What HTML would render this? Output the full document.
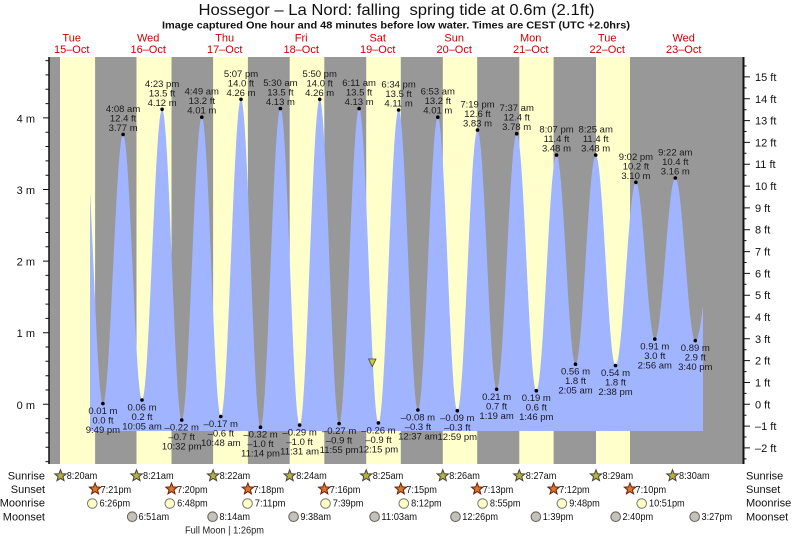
<!DOCTYPE html>
<html><head><meta charset="utf-8"><style>
html,body{margin:0;padding:0;background:#fff;}
svg{display:block;font-family:"Liberation Sans",Arial,sans-serif;}
.tl{font-size:9.5px;fill:#1a1a1a;text-anchor:middle;}
.ax{font-size:11px;fill:#111;}
.day{font-size:11px;fill:#cc0000;text-anchor:middle;}
.bt{font-size:10.5px;fill:#111;}
.rl{font-size:11px;fill:#111;}
</style></head><body>
<svg width="793" height="539" viewBox="0 0 793 539" xmlns="http://www.w3.org/2000/svg">
<defs>
<path id="star" d="M0,-6L1.52,-2.09L5.71,-1.85L2.46,0.8L3.53,4.85L0,2.6L-3.53,4.85L-2.46,0.8L-5.71,-1.85L-1.52,-2.09Z"/>
<clipPath id="pc"><rect x="49" y="57" width="694" height="407"/></clipPath>
</defs>

<!-- Title -->
<text x="396.5" y="15" font-size="16" text-anchor="middle" textLength="396" lengthAdjust="spacingAndGlyphs" fill="#111" xml:space="preserve">Hossegor – La Nord: falling  spring tide at 0.6m (2.1ft)</text>
<text x="396" y="28.5" font-size="10" font-weight="bold" text-anchor="middle" textLength="468" lengthAdjust="spacingAndGlyphs" fill="#111">Image captured One hour and 48 minutes before low water. Times are CEST (UTC +2.0hrs)</text>

<!-- Day labels -->
<text class="day" x="71.7" y="41.5">Tue</text><text class="day" x="71.7" y="53">15–Oct</text>
<text class="day" x="148.2" y="41.5">Wed</text><text class="day" x="148.2" y="53">16–Oct</text>
<text class="day" x="224.7" y="41.5">Thu</text><text class="day" x="224.7" y="53">17–Oct</text>
<text class="day" x="301.2" y="41.5">Fri</text><text class="day" x="301.2" y="53">18–Oct</text>
<text class="day" x="377.7" y="41.5">Sat</text><text class="day" x="377.7" y="53">19–Oct</text>
<text class="day" x="454.2" y="41.5">Sun</text><text class="day" x="454.2" y="53">20–Oct</text>
<text class="day" x="530.7" y="41.5">Mon</text><text class="day" x="530.7" y="53">21–Oct</text>
<text class="day" x="607.2" y="41.5">Tue</text><text class="day" x="607.2" y="53">22–Oct</text>
<text class="day" x="683.7" y="41.5">Wed</text><text class="day" x="683.7" y="53">23–Oct</text>

<!-- Plot background -->
<g clip-path="url(#pc)">
<rect x="49" y="57" width="694" height="407" fill="#ffffcc"/>
<g fill="#989898">
<rect x="49" y="57" width="11" height="407"/>
<rect x="95.1" y="57" width="41.4" height="407"/>
<rect x="171.5" y="57" width="41.6" height="407"/>
<rect x="247.9" y="57" width="41.8" height="407"/>
<rect x="324.3" y="57" width="41.9" height="407"/>
<rect x="400.8" y="57" width="42" height="407"/>
<rect x="477.2" y="57" width="42.1" height="407"/>
<rect x="553.6" y="57" width="42.4" height="407"/>
<rect x="630" y="57" width="113" height="407"/>
</g>
<path id="tide" fill="#a0b4ff" d="M90,431L703,431Z"/>
</g>

<!-- Axes -->
<line x1="49" y1="57" x2="49" y2="464" stroke="#111" stroke-width="1.5"/>
<line x1="743.5" y1="57" x2="743.5" y2="464" stroke="#111" stroke-width="2"/>
<path stroke="#111" stroke-width="1" fill="none" d="M43,404.3H49M43,332.7H49M43,261.1H49M43,189.5H49M43,117.9H49
M45.5,461.6H49M45.5,447.3H49M45.5,432.9H49M45.5,418.6H49M45.5,390H49M45.5,375.7H49M45.5,361.3H49M45.5,347H49
M45.5,318.4H49M45.5,304.1H49M45.5,289.7H49M45.5,275.4H49M45.5,246.8H49M45.5,232.5H49M45.5,218.1H49M45.5,203.8H49
M45.5,175.2H49M45.5,160.9H49M45.5,146.5H49M45.5,132.2H49M45.5,103.6H49M45.5,89.3H49M45.5,74.9H49M45.5,60.6H49"/>
<path stroke="#111" stroke-width="1" fill="none" d="M743,447.9H750M743,426.1H750M743,404.3H750M743,382.5H750M743,360.6H750M743,338.8H750M743,317H750M743,295.2H750M743,273.4H750M743,251.6H750M743,229.7H750M743,207.9H750M743,186.1H750M743,164.2H750M743,142.4H750M743,120.6H750M743,98.8H750M743,76.9H750
M743,458.9H746.5M743,437H746.5M743,415.2H746.5M743,393.4H746.5M743,371.6H746.5M743,349.7H746.5M743,327.9H746.5M743,306.1H746.5M743,284.3H746.5M743,262.5H746.5M743,240.6H746.5M743,218.8H746.5M743,197H746.5M743,175.2H746.5M743,153.3H746.5M743,131.5H746.5M743,109.7H746.5M743,87.9H746.5M743,66H746.5"/>
<g class="ax" text-anchor="end">
<text x="35" y="408.8">0 m</text><text x="35" y="337.2">1 m</text><text x="35" y="265.6">2 m</text><text x="35" y="194">3 m</text><text x="35" y="122.4">4 m</text>
</g>
<g class="ax">
<text x="755" y="451.9">–2 ft</text><text x="755" y="430.1">–1 ft</text><text x="755" y="408.3">0 ft</text><text x="755" y="386.5">1 ft</text><text x="755" y="364.6">2 ft</text><text x="755" y="342.8">3 ft</text><text x="755" y="321">4 ft</text><text x="755" y="299.2">5 ft</text><text x="755" y="277.4">6 ft</text><text x="755" y="255.6">7 ft</text><text x="755" y="233.7">8 ft</text><text x="755" y="211.9">9 ft</text><text x="755" y="190.1">10 ft</text><text x="755" y="168.2">11 ft</text><text x="755" y="146.4">12 ft</text><text x="755" y="124.6">13 ft</text><text x="755" y="102.8">14 ft</text><text x="755" y="80.9">15 ft</text>
</g>

<!-- Tide dots -->
<g fill="#000">
<circle cx="102.9" cy="403.6" r="1.8"/><circle cx="123.1" cy="134.4" r="1.8"/><circle cx="142" cy="400" r="1.8"/><circle cx="162.1" cy="109.3" r="1.8"/>
<circle cx="181.7" cy="420.1" r="1.8"/><circle cx="201.8" cy="117.2" r="1.8"/><circle cx="220.8" cy="416.5" r="1.8"/><circle cx="241" cy="99.3" r="1.8"/>
<circle cx="260.5" cy="427.2" r="1.8"/><circle cx="280.4" cy="108.6" r="1.8"/><circle cx="299.6" cy="425.1" r="1.8"/><circle cx="319.7" cy="99.3" r="1.8"/>
<circle cx="339.1" cy="423.6" r="1.8"/><circle cx="359.1" cy="108.6" r="1.8"/><circle cx="378.4" cy="422.9" r="1.8"/><circle cx="398.6" cy="110" r="1.8"/>
<circle cx="417.9" cy="410" r="1.8"/><circle cx="437.8" cy="117.2" r="1.8"/><circle cx="457.3" cy="410.7" r="1.8"/><circle cx="477.5" cy="130.1" r="1.8"/>
<circle cx="496.6" cy="389.3" r="1.8"/><circle cx="516.7" cy="133.7" r="1.8"/><circle cx="536.3" cy="390.7" r="1.8"/><circle cx="556.5" cy="155.1" r="1.8"/>
<circle cx="575.5" cy="364.2" r="1.8"/><circle cx="595.7" cy="155.1" r="1.8"/><circle cx="615.5" cy="365.6" r="1.8"/><circle cx="635.9" cy="182.3" r="1.8"/>
<circle cx="654.8" cy="339.1" r="1.8"/><circle cx="675.3" cy="178" r="1.8"/><circle cx="695.3" cy="340.6" r="1.8"/>
</g>

<!-- Tide labels: lows -->
<g class="tl">
<text x="102.9" y="414.1">0.01 m</text><text x="102.9" y="423.6">0.0 ft</text><text x="102.9" y="433.1">9:49 pm</text>
<text x="142" y="410.5">0.06 m</text><text x="142" y="420">0.2 ft</text><text x="142" y="429.5">10:05 am</text>
<text x="181.7" y="430.6">–0.22 m</text><text x="181.7" y="440.1">–0.7 ft</text><text x="181.7" y="449.6">10:32 pm</text>
<text x="220.8" y="427">–0.17 m</text><text x="220.8" y="436.5">–0.6 ft</text><text x="220.8" y="446">10:48 am</text>
<text x="260.5" y="437.7">–0.32 m</text><text x="260.5" y="447.2">–1.0 ft</text><text x="260.5" y="456.7">11:14 pm</text>
<text x="299.6" y="435.6">–0.29 m</text><text x="299.6" y="445.1">–1.0 ft</text><text x="299.6" y="454.6">11:31 am</text>
<text x="339.1" y="434.1">–0.27 m</text><text x="339.1" y="443.6">–0.9 ft</text><text x="339.1" y="453.1">11:55 pm</text>
<text x="378.4" y="433.4">–0.26 m</text><text x="378.4" y="442.9">–0.9 ft</text><text x="378.4" y="452.4">12:15 pm</text>
<text x="417.9" y="420.5">–0.08 m</text><text x="417.9" y="430">–0.3 ft</text><text x="417.9" y="439.5">12:37 am</text>
<text x="457.3" y="421.2">–0.09 m</text><text x="457.3" y="430.7">–0.3 ft</text><text x="457.3" y="440.2">12:59 pm</text>
<text x="496.6" y="399.8">0.21 m</text><text x="496.6" y="409.3">0.7 ft</text><text x="496.6" y="418.8">1:19 am</text>
<text x="536.3" y="401.2">0.19 m</text><text x="536.3" y="410.7">0.6 ft</text><text x="536.3" y="420.2">1:46 pm</text>
<text x="575.5" y="374.7">0.56 m</text><text x="575.5" y="384.2">1.8 ft</text><text x="575.5" y="393.7">2:05 am</text>
<text x="615.5" y="376.1">0.54 m</text><text x="615.5" y="385.6">1.8 ft</text><text x="615.5" y="395.1">2:38 pm</text>
<text x="654.8" y="349.6">0.91 m</text><text x="654.8" y="359.1">3.0 ft</text><text x="654.8" y="368.6">2:56 am</text>
<text x="695.3" y="351.1">0.89 m</text><text x="695.3" y="360.6">2.9 ft</text><text x="695.3" y="370.1">3:40 pm</text>
</g>
<!-- Tide labels: highs -->
<g class="tl">
<text x="123.1" y="111.9">4:08 am</text><text x="123.1" y="121.4">12.4 ft</text><text x="123.1" y="130.9">3.77 m</text>
<text x="162.1" y="86.8">4:23 pm</text><text x="162.1" y="96.3">13.5 ft</text><text x="162.1" y="105.8">4.12 m</text>
<text x="201.8" y="94.7">4:49 am</text><text x="201.8" y="104.2">13.2 ft</text><text x="201.8" y="113.7">4.01 m</text>
<text x="241" y="76.8">5:07 pm</text><text x="241" y="86.3">14.0 ft</text><text x="241" y="95.8">4.26 m</text>
<text x="280.4" y="86.1">5:30 am</text><text x="280.4" y="95.6">13.5 ft</text><text x="280.4" y="105.1">4.13 m</text>
<text x="319.7" y="76.8">5:50 pm</text><text x="319.7" y="86.3">14.0 ft</text><text x="319.7" y="95.8">4.26 m</text>
<text x="359.1" y="86.1">6:11 am</text><text x="359.1" y="95.6">13.5 ft</text><text x="359.1" y="105.1">4.13 m</text>
<text x="398.6" y="87.5">6:34 pm</text><text x="398.6" y="97">13.5 ft</text><text x="398.6" y="106.5">4.11 m</text>
<text x="437.8" y="94.7">6:53 am</text><text x="437.8" y="104.2">13.2 ft</text><text x="437.8" y="113.7">4.01 m</text>
<text x="477.5" y="107.6">7:19 pm</text><text x="477.5" y="117.1">12.6 ft</text><text x="477.5" y="126.6">3.83 m</text>
<text x="516.7" y="111.2">7:37 am</text><text x="516.7" y="120.7">12.4 ft</text><text x="516.7" y="130.2">3.78 m</text>
<text x="556.5" y="132.6">8:07 pm</text><text x="556.5" y="142.1">11.4 ft</text><text x="556.5" y="151.6">3.48 m</text>
<text x="595.7" y="132.6">8:25 am</text><text x="595.7" y="142.1">11.4 ft</text><text x="595.7" y="151.6">3.48 m</text>
<text x="635.9" y="159.8">9:02 pm</text><text x="635.9" y="169.3">10.2 ft</text><text x="635.9" y="178.8">3.10 m</text>
<text x="675.3" y="155.5">9:22 am</text><text x="675.3" y="165">10.4 ft</text><text x="675.3" y="174.5">3.16 m</text>
</g>

<!-- Current time marker -->
<polygon points="368.6,359 376,359 372.3,366.7" fill="#cccc33" stroke="#444" stroke-width="0.8"/>

<!-- Bottom rows labels -->
<g class="rl" text-anchor="end">
<text x="45" y="479.5">Sunrise</text><text x="45" y="493">Sunset</text><text x="45" y="506.5">Moonrise</text><text x="45" y="520.5">Moonset</text>
</g>
<g class="rl">
<text x="746" y="479.5">Sunrise</text><text x="746" y="493">Sunset</text><text x="746" y="506.5">Moonrise</text><text x="746" y="520.5">Moonset</text>
</g>

<!-- Sunrise icons -->
<g fill="#b8b23c" stroke="#444" stroke-width="1">
<use href="#star" x="60.5" y="475.8"/><use href="#star" x="136.5" y="475.8"/><use href="#star" x="213.1" y="475.8"/><use href="#star" x="289.7" y="475.8"/><use href="#star" x="366.2" y="475.8"/><use href="#star" x="442.8" y="475.8"/><use href="#star" x="519.3" y="475.8"/><use href="#star" x="596" y="475.8"/><use href="#star" x="672.5" y="475.8"/>
</g>
<g class="bt">
<text x="66.7" y="479" textLength="30.6" lengthAdjust="spacingAndGlyphs">8:20am</text>
<text x="143" y="479" textLength="30.6" lengthAdjust="spacingAndGlyphs">8:21am</text>
<text x="219.6" y="479" textLength="30.6" lengthAdjust="spacingAndGlyphs">8:22am</text>
<text x="296.2" y="479" textLength="30.6" lengthAdjust="spacingAndGlyphs">8:24am</text>
<text x="372.7" y="479" textLength="30.6" lengthAdjust="spacingAndGlyphs">8:25am</text>
<text x="449.3" y="479" textLength="30.6" lengthAdjust="spacingAndGlyphs">8:26am</text>
<text x="525.8" y="479" textLength="30.6" lengthAdjust="spacingAndGlyphs">8:27am</text>
<text x="602.5" y="479" textLength="30.6" lengthAdjust="spacingAndGlyphs">8:29am</text>
<text x="679" y="479" textLength="30.6" lengthAdjust="spacingAndGlyphs">8:30am</text>
</g>

<!-- Sunset icons -->
<g fill="#d8762c" stroke="#6a2008" stroke-width="1">
<use href="#star" x="95.1" y="489"/><use href="#star" x="171.5" y="489"/><use href="#star" x="247.9" y="489"/><use href="#star" x="324.3" y="489"/><use href="#star" x="400.8" y="489"/><use href="#star" x="477.2" y="489"/><use href="#star" x="553.6" y="489"/><use href="#star" x="630" y="489"/>
</g>
<g class="bt">
<text x="100.6" y="493" textLength="30.6" lengthAdjust="spacingAndGlyphs">7:21pm</text>
<text x="177" y="493" textLength="30.6" lengthAdjust="spacingAndGlyphs">7:20pm</text>
<text x="253.4" y="493" textLength="30.6" lengthAdjust="spacingAndGlyphs">7:18pm</text>
<text x="329.8" y="493" textLength="30.6" lengthAdjust="spacingAndGlyphs">7:16pm</text>
<text x="406.3" y="493" textLength="30.6" lengthAdjust="spacingAndGlyphs">7:15pm</text>
<text x="482.7" y="493" textLength="30.6" lengthAdjust="spacingAndGlyphs">7:13pm</text>
<text x="559.1" y="493" textLength="30.6" lengthAdjust="spacingAndGlyphs">7:12pm</text>
<text x="635.5" y="493" textLength="30.6" lengthAdjust="spacingAndGlyphs">7:10pm</text>
</g>

<!-- Moonrise icons -->
<g fill="#ffffc8" stroke="#7a7a70" stroke-width="1">
<circle cx="92.3" cy="503.5" r="4.8"/><circle cx="169.8" cy="503.5" r="4.8"/><circle cx="247.5" cy="503.5" r="4.8"/><circle cx="325.5" cy="503.5" r="4.8"/><circle cx="403.8" cy="503.5" r="4.8"/><circle cx="482.6" cy="503.5" r="4.8"/><circle cx="561.9" cy="503.5" r="4.8"/><circle cx="641.7" cy="503.5" r="4.8"/>
</g>
<g class="bt">
<text x="99.5" y="506.7" textLength="30.6" lengthAdjust="spacingAndGlyphs">6:26pm</text>
<text x="177.1" y="506.7" textLength="30.6" lengthAdjust="spacingAndGlyphs">6:48pm</text>
<text x="254.8" y="506.7" textLength="30.6" lengthAdjust="spacingAndGlyphs">7:11pm</text>
<text x="332.8" y="506.7" textLength="30.6" lengthAdjust="spacingAndGlyphs">7:39pm</text>
<text x="411.1" y="506.7" textLength="30.6" lengthAdjust="spacingAndGlyphs">8:12pm</text>
<text x="489.9" y="506.7" textLength="30.6" lengthAdjust="spacingAndGlyphs">8:55pm</text>
<text x="569.2" y="506.7" textLength="30.6" lengthAdjust="spacingAndGlyphs">9:48pm</text>
<text x="649" y="506.7" textLength="35.7" lengthAdjust="spacingAndGlyphs">10:51pm</text>
</g>

<!-- Moonset icons -->
<g fill="#c2c2ba" stroke="#626258" stroke-width="1">
<circle cx="132.2" cy="516.7" r="4.8"/><circle cx="212.6" cy="516.7" r="4.8"/><circle cx="293.6" cy="516.7" r="4.8"/><circle cx="374.6" cy="516.7" r="4.8"/><circle cx="455.5" cy="516.7" r="4.8"/><circle cx="535.9" cy="516.7" r="4.8"/><circle cx="615.7" cy="516.7" r="4.8"/><circle cx="694.7" cy="516.7" r="4.8"/>
</g>
<g class="bt">
<text x="138.5" y="520" textLength="30.6" lengthAdjust="spacingAndGlyphs">6:51am</text>
<text x="219.4" y="520" textLength="30.6" lengthAdjust="spacingAndGlyphs">8:14am</text>
<text x="300.4" y="520" textLength="30.6" lengthAdjust="spacingAndGlyphs">9:38am</text>
<text x="381.4" y="520" textLength="35.7" lengthAdjust="spacingAndGlyphs">11:03am</text>
<text x="462.3" y="520" textLength="35.7" lengthAdjust="spacingAndGlyphs">12:26pm</text>
<text x="542.7" y="520" textLength="30.6" lengthAdjust="spacingAndGlyphs">1:39pm</text>
<text x="622.5" y="520" textLength="30.6" lengthAdjust="spacingAndGlyphs">2:40pm</text>
<text x="701.5" y="520" textLength="30.6" lengthAdjust="spacingAndGlyphs">3:27pm</text>
</g>

<text x="185" y="533.5" font-size="10" fill="#222" textLength="79" lengthAdjust="spacingAndGlyphs">Full Moon | 1:26pm</text>
</svg>
<script>
(function(){
var ev=[[84.4,3.75],[102.9,0.01],[123.1,3.77],[142.0,0.06],[162.1,4.12],[181.7,-0.22],[201.8,4.01],[220.8,-0.17],[241.0,4.26],[260.5,-0.32],[280.4,4.13],[299.6,-0.29],[319.7,4.26],[339.1,-0.27],[359.1,4.13],[378.4,-0.26],[398.6,4.11],[417.9,-0.08],[437.8,4.01],[457.3,-0.09],[477.5,3.83],[496.6,0.21],[516.7,3.78],[536.3,0.19],[556.5,3.48],[575.5,0.56],[595.7,3.48],[615.5,0.54],[635.9,3.10],[654.8,0.91],[675.3,3.16],[695.3,0.89],[720,3.1]];
function Y(m){return 404.3-71.6*m;}
var xs=[];for(var x=90;x<=703.001;x+=0.5)xs.push(x);
ev.forEach(function(e){if(e[0]>90&&e[0]<703)xs.push(e[0]);});
xs.sort(function(a,b){return a-b;});
var d='M90,431';
xs.forEach(function(x){var i=0;while(i<ev.length-2&&ev[i+1][0]<=x)i++;var a=ev[i],b=ev[i+1];var f=(1-Math.cos(Math.PI*(x-a[0])/(b[0]-a[0])))/2;var h=a[1]+(b[1]-a[1])*f;d+='L'+x.toFixed(2)+','+Y(h).toFixed(2);});
d+='L703,431Z';
document.getElementById('tide').setAttribute('d',d);
})();
</script>
</body></html>
